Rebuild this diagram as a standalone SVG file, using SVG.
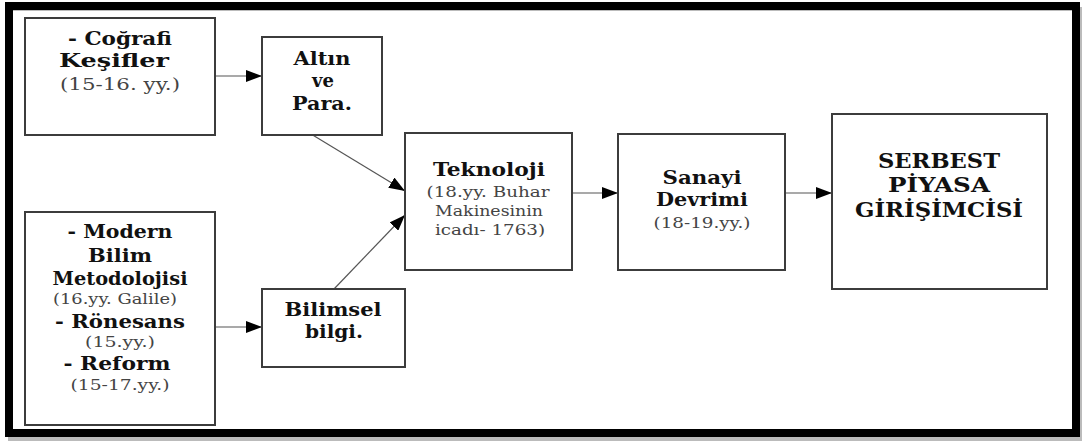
<svg xmlns="http://www.w3.org/2000/svg" width="1082" height="441" viewBox="0 0 1082 441">
<style>
.box{fill:#fff;stroke:#3c3c3c;stroke-width:2}
text{text-anchor:middle}
.t{font-family:"DejaVu Serif",serif;font-weight:bold;font-size:18px;fill:#111}
.s{font-family:"DejaVu Serif",serif;font-size:14.5px;fill:#444}
.m{font-family:"DejaVu Serif",serif;font-size:17px;fill:#444}
.big{font-family:"DejaVu Serif",serif;font-weight:bold;font-size:21px;fill:#111}
.c{stroke:#555;stroke-width:1.2;fill:none;marker-end:url(#ah)}
</style>
<defs>
<marker id="ah" viewBox="0 0 16 12" refX="16" refY="6" markerWidth="16" markerHeight="12" markerUnits="userSpaceOnUse" orient="auto">
<path d="M0,0 L16,6 L0,12 Z" fill="#000"/>
</marker>
</defs>
<rect x="0" y="0" width="1082" height="441" fill="#fff"/>
<g id="frame">
<rect x="10" y="9" width="1070" height="430" fill="none" stroke="#bbb" stroke-width="4"/>
<rect x="9" y="6" width="1067" height="427" fill="none" stroke="#000" stroke-width="8"/>
</g>
<g id="connectors">
<line class="c" x1="215" y1="76" x2="262" y2="76"/>
<line class="c" x1="215" y1="327" x2="262" y2="327"/>
<line class="c" x1="311" y1="134" x2="405" y2="191"/>
<line class="c" x1="334" y1="289" x2="405" y2="215"/>
<line class="c" x1="572" y1="193" x2="618" y2="193"/>
<line class="c" x1="785" y1="193" x2="832" y2="193"/>
</g>
<g id="cografi">
<rect class="box" x="25" y="18" width="190" height="117"/>
<text class="t" x="120" y="45" textLength="104" lengthAdjust="spacingAndGlyphs">- Coğrafi</text>
<text class="t" x="114" y="67" textLength="110" lengthAdjust="spacingAndGlyphs">Keşifler</text>
<text class="m" x="120" y="90" textLength="120" lengthAdjust="spacingAndGlyphs">(15-16. yy.)</text>
</g>
<g id="altin">
<rect class="box" x="262" y="37" width="120" height="98"/>
<text class="t" x="322" y="65" textLength="57" lengthAdjust="spacingAndGlyphs">Altın</text>
<text class="t" x="323" y="87">ve</text>
<text class="t" x="322" y="110" textLength="60" lengthAdjust="spacingAndGlyphs">Para.</text>
</g>
<g id="modern">
<rect class="box" x="25" y="212" width="190" height="213"/>
<text class="t" x="120" y="238" textLength="105" lengthAdjust="spacingAndGlyphs">- Modern</text>
<text class="t" x="120" y="262" textLength="64" lengthAdjust="spacingAndGlyphs">Bilim</text>
<text class="t" x="120" y="285" textLength="135" lengthAdjust="spacingAndGlyphs">Metodolojisi</text>
<text class="s" x="115" y="304" textLength="124" lengthAdjust="spacingAndGlyphs">(16.yy. Galile)</text>
<text class="t" x="120" y="328" textLength="130" lengthAdjust="spacingAndGlyphs">- Rönesans</text>
<text class="s" x="120" y="347" textLength="70" lengthAdjust="spacingAndGlyphs">(15.yy.)</text>
<text class="t" x="117" y="370" textLength="107" lengthAdjust="spacingAndGlyphs">- Reform</text>
<text class="s" x="120" y="390" textLength="99" lengthAdjust="spacingAndGlyphs">(15-17.yy.)</text>
</g>
<g id="bilimsel">
<rect class="box" x="262" y="289" width="143" height="78"/>
<text class="t" x="333" y="316" textLength="97" lengthAdjust="spacingAndGlyphs">Bilimsel</text>
<text class="t" x="334" y="338" textLength="58" lengthAdjust="spacingAndGlyphs">bilgi.</text>
</g>
<g id="teknoloji">
<rect class="box" x="405" y="133" width="167" height="137"/>
<text class="t" x="489" y="176" textLength="112" lengthAdjust="spacingAndGlyphs">Teknoloji</text>
<text class="s" x="488" y="197" textLength="123" lengthAdjust="spacingAndGlyphs">(18.yy. Buhar</text>
<text class="s" x="489" y="216" textLength="108" lengthAdjust="spacingAndGlyphs">Makinesinin</text>
<text class="s" x="490" y="235" textLength="110" lengthAdjust="spacingAndGlyphs">icadı- 1763)</text>
</g>
<g id="sanayi">
<rect class="box" x="618" y="134" width="167" height="136"/>
<text class="t" x="702" y="184" textLength="79" lengthAdjust="spacingAndGlyphs">Sanayi</text>
<text class="t" x="702" y="206" textLength="92" lengthAdjust="spacingAndGlyphs">Devrimi</text>
<text class="s" x="702" y="228" textLength="97" lengthAdjust="spacingAndGlyphs">(18-19.yy.)</text>
</g>
<g id="serbest">
<rect class="box" x="832" y="114" width="215" height="175"/>
<text class="big" x="939" y="168" textLength="122" lengthAdjust="spacingAndGlyphs">SERBEST</text>
<text class="big" x="939" y="192" textLength="102" lengthAdjust="spacingAndGlyphs">PİYASA</text>
<text class="big" x="939" y="217" textLength="168" lengthAdjust="spacingAndGlyphs">GİRİŞİMCİSİ</text>
</g>
</svg>
